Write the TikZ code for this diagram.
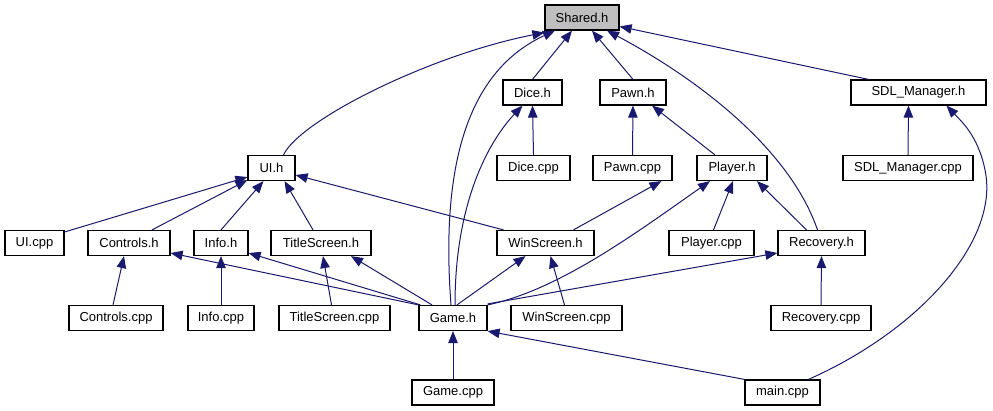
\documentclass[tikz,border=0pt]{standalone}
\usepackage{fontspec}
\setmainfont{Liberation Sans}
\usepackage{tikz}
\usetikzlibrary{arrows.meta, positioning}
\definecolor{Edge}{HTML}{191970}
\definecolor{Root}{HTML}{BFBFBF}

\begin{document}
\begin{tikzpicture}[
  x=1pt, y=-1pt,
  font=\fontsize{13}{15}\selectfont,
  file/.style={draw=black, line width=1.2pt, rectangle, minimum height=25pt, inner sep=0pt, fill=white},
  rootfile/.style={file, fill=Root},
  arrow/.style={-{Triangle[length=12pt, width=9.5pt]}, line width=1pt, draw=Edge}
]
\useasboundingbox (0,0) rectangle (993,411);

\node[rootfile, minimum width=74pt] (shared) at (582,17.5) {Shared.h};

\node[file, minimum width=59pt] (dice) at (532.5,92.5) {Dice.h};
\node[file, minimum width=66pt] (pawn) at (633,92.5) {Pawn.h};
\node[file, minimum width=135pt] (sdl) at (918.5,92.5) {SDL\_Manager.h};

\node[file, minimum width=47pt] (ui) at (271.5,168) {UI.h};
\node[file, minimum width=73pt] (dicecpp) at (533.5,168) {Dice.cpp};
\node[file, minimum width=79pt] (pawncpp) at (632.5,168) {Pawn.cpp};
\node[file, minimum width=70pt] (player) at (732,168) {Player.h};
\node[file, minimum width=130pt] (sdlcpp) at (908,168) {SDL\_Manager.cpp};

\node[file, minimum width=59pt] (uicpp) at (34.5,243) {UI.cpp};
\node[file, minimum width=82pt] (controls) at (129,243) {Controls.h};
\node[file, minimum width=54pt] (info) at (221,243) {Info.h};
\node[file, minimum width=100pt] (title) at (321,243) {TitleScreen.h};
\node[file, minimum width=97pt] (win) at (545.5,243) {WinScreen.h};
\node[file, minimum width=85pt] (playercpp) at (711.5,243) {Player.cpp};
\node[file, minimum width=87pt] (recovery) at (821.5,243) {Recovery.h};

\node[file, minimum width=94pt] (controlscpp) at (116,318) {Controls.cpp};
\node[file, minimum width=66pt] (infocpp) at (221,318) {Info.cpp};
\node[file, minimum width=111pt] (titlecpp) at (334.5,318) {TitleScreen.cpp};
\node[file, minimum width=68pt] (game) at (453,318) {Game.h};
\node[file, minimum width=111pt] (wincpp) at (566.5,318) {WinScreen.cpp};
\node[file, minimum width=100pt] (recoverycpp) at (821,318) {Recovery.cpp};

\node[file, minimum width=82pt] (gamecpp) at (453,392.5) {Game.cpp};
\node[file, minimum width=75pt] (maincpp) at (782.5,392.5) {main.cpp};

\draw[arrow] ([xshift=12pt]ui.north) .. controls (300,120) and (430,55) .. ([yshift=-2pt]shared.south west);
\draw[arrow] ([xshift=-2pt]game.north) .. controls (440,160) and (470,70) .. ([xshift=-27pt]shared.south);
\draw[arrow] (dice.north) -- ([xshift=-10pt]shared.south);
\draw[arrow] (pawn.north) -- ([xshift=10pt]shared.south);
\draw[arrow] ([xshift=-4pt]recovery.north) .. controls (790,150) and (700,80) .. ([xshift=25pt]shared.south);
\draw[arrow] ([xshift=-50pt]sdl.north) -- ([yshift=-9pt]shared.east);

\draw[arrow] (dicecpp.north) -- (dice.south);
\draw[arrow] ([xshift=2pt]game.north) .. controls (455,200) and (490,140) .. ([xshift=-10pt]dice.south);
\draw[arrow] (pawncpp.north) -- (pawn.south);
\draw[arrow] ([xshift=-17pt]player.north) -- ([xshift=19pt]pawn.south);
\draw[arrow] (sdlcpp.north) -- ([xshift=-10pt]sdl.south);
\draw[arrow] ([xshift=26pt]maincpp.north) .. controls (920,330) and (1000,240) .. (985,170) .. controls (978,135) and (960,120) .. ([xshift=28pt]sdl.south);

\draw[arrow] ([yshift=11pt]uicpp.east) -- ([yshift=-9pt]ui.west);
\draw[arrow] ([xshift=23pt]controls.north) -- ([yshift=-12pt]ui.west);
\draw[arrow] (info.north) -- ([xshift=-8pt]ui.south);
\draw[arrow] ([xshift=-8pt]title.north) -- ([xshift=13pt]ui.south);
\draw[arrow] ([xshift=-42pt]win.north) -- ([yshift=-7pt]ui.east);
\draw[arrow] ([xshift=28pt]win.north) -- ([xshift=-35pt]player.south west);
\draw[arrow] (game.north east) .. controls (560,290) and (640,230) .. ([xshift=-22pt]player.south);
\draw[arrow] ([xshift=2pt]playercpp.north) -- ([xshift=1pt]player.south);
\draw[arrow] ([xshift=-15pt]recovery.north) -- ([xshift=25pt]player.south);

\draw[arrow] ([xshift=-3pt]controlscpp.north) -- ([xshift=-5pt]controls.south);
\draw[arrow] (infocpp.north) -- (info.south);
\draw[arrow] ([xshift=-3pt]titlecpp.north) -- ([xshift=2pt]title.south);
\draw[arrow] (game.north west) -- ([yshift=-10pt]controls.east);
\draw[arrow] ([xshift=2pt]game.north west) -- ([yshift=-10pt]info.east);
\draw[arrow] ([xshift=-21pt]game.north) -- ([xshift=30pt]title.south);
\draw[arrow] ([xshift=4pt]game.north) -- ([xshift=-20pt]win.south);
\draw[arrow] ([xshift=-2pt]wincpp.north) -- ([xshift=5pt]win.south);
\draw[arrow] ([yshift=1pt]game.north east) -- ([yshift=-10pt]recovery.west);
\draw[arrow] (recoverycpp.north) -- (recovery.south);

\draw[arrow] (gamecpp.north) -- (game.south);
\draw[arrow] (maincpp.north west) -- (game.south east);
\end{tikzpicture}
\end{document}
